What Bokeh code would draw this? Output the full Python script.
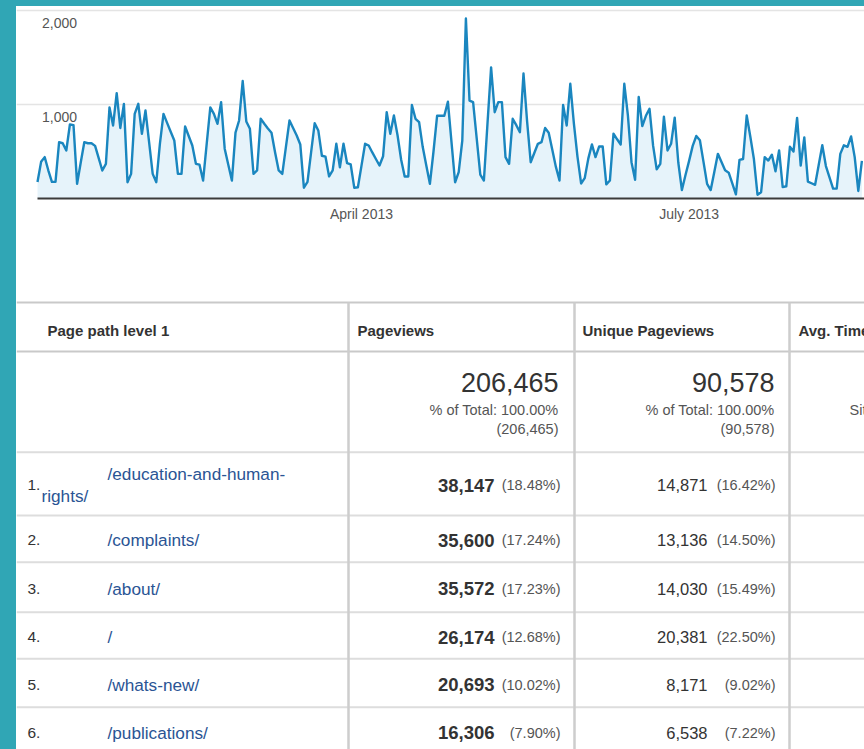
import pandas as pd
from bokeh.plotting import figure
from bokeh.layouts import row, column
from bokeh.models import Range1d, FixedTicker, DatetimeTickFormatter, Spacer, ColumnDataSource
from bokeh.core.properties import value
from bokeh.embed import file_html
from bokeh.resources import INLINE

# ---------------- data ----------------
start_date = "2013-01-01"
daily_pageviews = [
    175, 390, 440, 300, 177, 177, 599, 588, 511, 787,
    780, 156, 380, 599, 588, 588, 560, 430, 298, 369,
    969, 777, 1121, 750, 1007, 173, 262, 900, 1007, 688,
    936, 600, 262, 173, 580, 900, 805, 710, 617, 262,
    262, 766, 665, 564, 369, 360, 191, 580, 969, 900,
    794, 1025, 530, 360, 191, 700, 830, 1250, 820, 741,
    262, 298, 848, 795, 745, 700, 490, 298, 262, 546,
    830, 750, 670, 574, 115, 177, 490, 801, 724, 455,
    445, 235, 300, 582, 333, 582, 376, 362, 113, 120,
    350, 582, 564, 490, 420, 351, 450, 918, 688, 883,
    675, 416, 234, 234, 995, 848, 812, 550, 350, 156,
    500, 880, 880, 880, 1030, 600, 173, 280, 617, 1915,
    1042, 1025, 640, 255, 191, 800, 1395, 918, 1025, 1025,
    440, 369, 848, 780, 706, 1330, 820, 386, 484, 582,
    599, 750, 700, 518, 336, 191, 995, 777, 1220, 796,
    443, 160, 216, 424, 575, 440, 553, 553, 150, 191,
    690, 630, 575, 1220, 885, 386, 200, 1080, 770, 880,
    955, 562, 310, 369, 870, 511, 582, 860, 383, 90,
    250, 400, 560, 665, 620, 390, 156, 90, 283, 475,
    388, 300, 275, 160, 45, 410, 420, 883, 660, 420,
    40, 67, 440, 404, 466, 290, 511, 121, 130, 550,
    500, 858, 350, 650, 180, 162, 145, 356, 566, 345,
    225, 105, 105, 475, 566, 550, 660, 440, 80, 400,
]
y_ticks = [1000, 2000]
x_tick_dates = ["2013-04-01", "2013-07-01"]

table_columns = ["Page path level 1", "Pageviews", "Unique Pageviews", "Avg. Time on Page"]
page_paths = ["/education-and-human-rights/", "/complaints/", "/about/", "/",
              "/whats-new/", "/publications/"]
pageviews = [38147, 35600, 35572, 26174, 20693, 16306]
pageviews_pct = [18.48, 17.24, 17.23, 12.68, 10.02, 7.90]
unique_pageviews = [14871, 13136, 14030, 20381, 8171, 6538]
unique_pct = [16.42, 14.50, 15.49, 22.50, 9.02, 7.22]
total_pageviews = 206465
total_unique = 90578
total_share = 100.00

# ---------------- style / layout ----------------
FONT = "Liberation Sans"
TEAL = "#30a6b5"
DARK = "#333333"
GREY = "#555555"
LINK = "#2a5494"

PAGE_W, PAGE_H = 864, 749
TOP_BAND, LEFT_BAND = 6, 16
PX_PER_DAY = 3.6
CH_W, CH_H = PAGE_W - LEFT_BAND, 290
LEFT_PAD = 21          # white space left of the first day, inside the frame
BOTTOM = 98
FRAME_H = CH_H - BOTTOM
PX_PER_1000 = 94.0
DAY_MS = 86400000.0

dates = pd.date_range(start_date, periods=len(daily_pageviews), freq="D")
t0 = pd.Timestamp(start_date).value / 1e6
x_start = t0 - LEFT_PAD / PX_PER_DAY * DAY_MS
x_end = t0 + (CH_W - LEFT_PAD) / PX_PER_DAY * DAY_MS
y_top = FRAME_H / PX_PER_1000 * 1000

chart = figure(width=CH_W, height=CH_H, x_axis_type="datetime", y_axis_location=None,
               x_range=Range1d(x_start, x_end), y_range=Range1d(0, y_top),
               toolbar_location=None, output_backend="svg",
               min_border_left=0, min_border_right=0, min_border_top=0,
               min_border_bottom=BOTTOM, background_fill_color="white",
               border_fill_color="white", outline_line_color=None)
chart.xgrid.visible = False
chart.ygrid.ticker = FixedTicker(ticks=y_ticks)
chart.ygrid.grid_line_color = "#e4e4e4"
chart.ygrid.grid_line_width = 1.5
chart.ygrid.bounds = (t0, x_end)

src = ColumnDataSource(dict(date=dates, views=daily_pageviews))
chart.varea(x="date", y1=0, y2="views", source=src, fill_color="#e6f3fa")
chart.line(x="date", y="views", source=src, line_color="#1a86bf", line_width=2.4,
           line_join="round")

ysrc = ColumnDataSource(dict(x=[t0] * len(y_ticks), y=y_ticks,
                             t=[f"{v:,}" for v in y_ticks]))
chart.text(x="x", y="y", text="t", source=ysrc, x_offset=4.5, y_offset=12.5,
           text_font=value(FONT), text_font_size="14px", text_color=GREY,
           text_baseline="middle", text_align="left")

tick_ms = [pd.Timestamp(d).value / 1e6 for d in x_tick_dates]
xa = chart.xaxis[0]
xa.ticker = FixedTicker(ticks=tick_ms)
fmt = "%B %Y"
xa.formatter = DatetimeTickFormatter(microseconds=fmt, milliseconds=fmt, seconds=fmt,
                                     minsec=fmt, minutes=fmt, hourmin=fmt, hours=fmt,
                                     days=fmt, months=fmt, years=fmt)
xa.bounds = (t0, x_end)
xa.axis_line_color = "#3a3a3a"
xa.axis_line_width = 2
xa.major_tick_line_color = None
xa.minor_tick_line_color = None
xa.major_label_text_font = FONT
xa.major_label_text_font_size = "14px"
xa.major_label_text_color = GREY
xa.major_label_standoff = 1

# ---------------- table ----------------
TB_W, TB_H = CH_W, PAGE_H - TOP_BAND - CH_H
tbl = figure(width=TB_W, height=TB_H, x_range=Range1d(0, TB_W), y_range=Range1d(TB_H, 0),
             x_axis_location=None, y_axis_location=None, toolbar_location=None,
             output_backend="svg", min_border=0, outline_line_color=None,
             background_fill_color="white", border_fill_color="white")
tbl.xgrid.visible = False
tbl.ygrid.visible = False

col_edges = [0, 332, 558, 773, TB_W]
header_pad = [31, 9, 8, 9]
header_top = 6
header_h = 49
totals_h = 100.7
row_h = [63.3, 46.7, 50, 46.6, 48.4, 48]

header_bot = header_top + header_h
totals_bot = header_bot + totals_h
row_tops = []
y = totals_bot
for h in row_h:
    row_tops.append(y)
    y += h
row_bots = [t + h for t, h in zip(row_tops, row_h)]

# grid lines
tbl.segment(x0=[0, 0], x1=[TB_W, TB_W], y0=[header_top, header_bot], y1=[header_top, header_bot],
            line_color="#c9c9c9", line_width=2)
hl = [totals_bot] + row_bots
tbl.segment(x0=[0] * len(hl), x1=[TB_W] * len(hl), y0=hl, y1=hl,
            line_color="#dddddd", line_width=2)
vx = col_edges[1:4]
tbl.segment(x0=vx, x1=vx, y0=[header_top] * 3, y1=[TB_H] * 3,
            line_color="#cdcdcd", line_width=2.5)

# header
tbl.text(x=[col_edges[i] + header_pad[i] for i in range(4)],
         y=[header_top + header_h / 2 + 3.5] * 4, text=table_columns,
         text_font=value(FONT), text_font_size="15px", text_font_style="bold",
         text_color=DARK, text_baseline="middle", text_align="left")

# totals row
tot_right = [col_edges[2] - 16, col_edges[3] - 15]
tbl.text(x=tot_right, y=[header_bot + 30.7] * 2,
         text=[f"{total_pageviews:,}", f"{total_unique:,}"],
         text_font=value(FONT), text_font_size="27px", text_color=DARK,
         text_baseline="middle", text_align="right")
tbl.text(x=tot_right, y=[header_bot + 58] * 2,
         text=[f"% of Total: {total_share:.2f}%"] * 2,
         text_font=value(FONT), text_font_size="14.5px", text_color=GREY,
         text_baseline="middle", text_align="right")
tbl.text(x=tot_right, y=[header_bot + 77.3] * 2,
         text=[f"({total_pageviews:,})", f"({total_unique:,})"],
         text_font=value(FONT), text_font_size="14.5px", text_color=GREY,
         text_baseline="middle", text_align="right")
tbl.text(x=[col_edges[3] + 60], y=[header_bot + 58], text=["Site Avg:"],
         text_font=value(FONT), text_font_size="14.5px", text_color=GREY,
         text_baseline="middle", text_align="left")


def wrap_path(path, max_chars=21):
    if len(path) <= max_chars:
        return [path]
    idx = path.rfind("-", 0, max_chars) + 1
    return [path[:idx], path[idx:]]


ranks, rank_y = [], []
p_x, p_y, p_t = [], [], []
for i, path in enumerate(page_paths):
    cy = row_tops[i] + row_h[i] / 2 + 1.5
    ranks.append(f"{i + 1}.")
    rank_y.append(cy)
    lines = wrap_path(path)
    if len(lines) == 1:
        p_x.append(col_edges[0] + 91); p_y.append(cy); p_t.append(lines[0])
    else:
        p_x += [col_edges[0] + 91, col_edges[0] + 25]
        p_y += [cy - 11, cy + 11]
        p_t += lines

tbl.text(x=[col_edges[0] + 11] * len(ranks), y=rank_y, text=ranks,
         text_font=value(FONT), text_font_size="15.5px", text_color=DARK,
         text_baseline="middle", text_align="left")
tbl.text(x=p_x, y=p_y, text=p_t, text_font=value(FONT), text_font_size="17.2px",
         text_color=LINK, text_baseline="middle", text_align="left")

n = len(page_paths)
tbl.text(x=[col_edges[2] - 80] * n, y=rank_y, text=[f"{v:,}" for v in pageviews],
         text_font=value(FONT), text_font_size="18.5px", text_font_style="bold",
         text_color=DARK, text_baseline="middle", text_align="right")
tbl.text(x=[col_edges[2] - 14] * n, y=rank_y, text=[f"({v:.2f}%)" for v in pageviews_pct],
         text_font=value(FONT), text_font_size="14.5px", text_color=GREY,
         text_baseline="middle", text_align="right")
tbl.text(x=[col_edges[3] - 82] * n, y=rank_y, text=[f"{v:,}" for v in unique_pageviews],
         text_font=value(FONT), text_font_size="16.5px", text_color=DARK,
         text_baseline="middle", text_align="right")
tbl.text(x=[col_edges[3] - 14] * n, y=rank_y, text=[f"({v:.2f}%)" for v in unique_pct],
         text_font=value(FONT), text_font_size="14.5px", text_color=GREY,
         text_baseline="middle", text_align="right")

top_band = Spacer(width=PAGE_W, height=TOP_BAND, styles={"background-color": TEAL})
left_band = Spacer(width=LEFT_BAND, height=CH_H + TB_H, styles={"background-color": TEAL})
layout = column(top_band, row(left_band, column(chart, tbl)))

open("out.html", "w").write(file_html(layout, INLINE))
